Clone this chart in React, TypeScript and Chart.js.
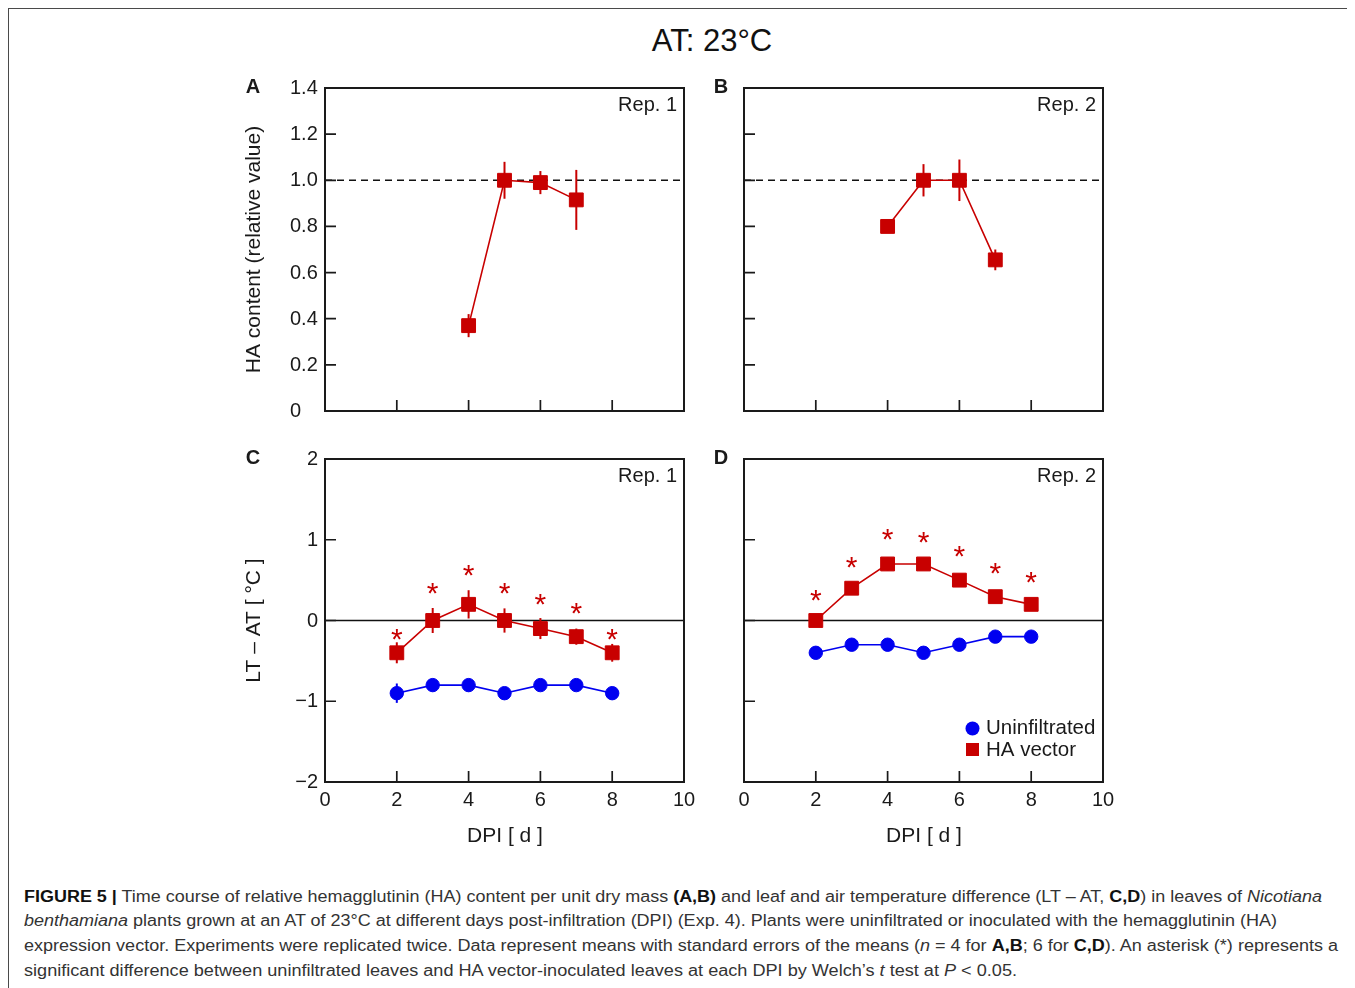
import React, { useEffect, useLayoutEffect, useRef } from "react";
import { Chart, registerables } from "chart.js";

Chart.register(...registerables);

const FONT = '"Liberation Sans", Arial, Helvetica, sans-serif';
const RED = "#c80000";
const BLUE = "#0000f0";
const INK = "#1a1a1a";

// ---- Data: HA content (panels A, B) ----
const haDays = [4, 5, 6, 7];
const haRep1 = [0.37, 1.0, 0.99, 0.915];
const haRep1Err = [0.05, 0.08, 0.05, 0.13];
const haRep2 = [0.8, 1.0, 1.0, 0.655];
const haRep2Err = [0.0, 0.07, 0.09, 0.045];

// ---- Data: LT - AT (panels C, D) ----
const dpiDays = [2, 3, 4, 5, 6, 7, 8];
const tRep1Uninf = [-0.9, -0.8, -0.8, -0.9, -0.8, -0.8, -0.9];
const tRep1UninfErr = [0.12, 0.08, 0.08, 0.05, 0.05, 0.05, 0.05];
const tRep1Ha = [-0.4, 0.0, 0.2, 0.0, -0.1, -0.2, -0.4];
const tRep1HaErr = [0.13, 0.155, 0.175, 0.15, 0.13, 0.1, 0.11];
const tRep1Star = [-0.14, 0.43, 0.65, 0.43, 0.295, 0.18, -0.14];
const tRep2Uninf = [-0.4, -0.3, -0.3, -0.4, -0.3, -0.2, -0.2];
const tRep2UninfErr = [0.04, 0.04, 0.04, 0.04, 0.04, 0.04, 0.04];
const tRep2Ha = [0.0, 0.4, 0.7, 0.7, 0.5, 0.295, 0.2];
const tRep2HaErr = [0.03, 0.03, 0.08, 0.06, 0.075, 0.08, 0.065];
const tRep2Star = [0.345, 0.75, 1.1, 1.06, 0.885, 0.68, 0.57];

// ---- Ticks ----
const xTickValues = [0, 2, 4, 6, 8, 10];
const xTickLabels = ["0", "2", "4", "6", "8", "10"];
const haTickValues = [0, 0.2, 0.4, 0.6, 0.8, 1.0, 1.2, 1.4];
const haTickLabels = ["0", "0.2", "0.4", "0.6", "0.8", "1.0", "1.2", "1.4"];
const tTickValues = [-2, -1, 0, 1, 2];
const tTickLabels = ["\u22122", "\u22121", "0", "1", "2"];

const legendLabels = ["Uninfiltrated", "HA vector"];

type Series = {
  label: string;
  x: number[];
  y: number[];
  err: number[];
  color: string;
  style: "rect" | "circle";
  radius: number;
};

type Panel = {
  key: string;
  left: number;
  top: number;
  width: number;
  height: number;
  pad: { left: number; top: number; right: number; bottom: number };
  letter: string;
  letterDx: number;
  rep: string;
  yMin: number;
  yMax: number;
  yTicks: number[];
  yLabels: string[] | null;
  yAlign: "left" | "right";
  yTitle: string | null;
  xLabels: string[] | null;
  xTitle: string | null;
  ref: number;
  refDash: number[];
  series: Series[];
  stars: number[] | null;
  legend: boolean;
};

const redSeries = (label: string, x: number[], y: number[], err: number[]): Series => ({
  label, x, y, err, color: RED, style: "rect", radius: 9.8,
});
const blueSeries = (label: string, x: number[], y: number[], err: number[]): Series => ({
  label, x, y, err, color: BLUE, style: "circle", radius: 6.7,
});

const panels: Panel[] = [
  {
    key: "A", left: 235, top: 65, width: 465, height: 365,
    pad: { left: 90, top: 23, right: 16, bottom: 19 },
    letter: "A", letterDx: -72, rep: "Rep. 1",
    yMin: 0, yMax: 1.4, yTicks: haTickValues, yLabels: haTickLabels, yAlign: "left",
    yTitle: "HA content (relative value)", xLabels: null, xTitle: null,
    ref: 1.0, refDash: [7, 5],
    series: [redSeries("HA vector", haDays, haRep1, haRep1Err)],
    stars: null, legend: false,
  },
  {
    key: "B", left: 700, top: 65, width: 420, height: 365,
    pad: { left: 44, top: 23, right: 17, bottom: 19 },
    letter: "B", letterDx: -23, rep: "Rep. 2",
    yMin: 0, yMax: 1.4, yTicks: haTickValues, yLabels: null, yAlign: "left",
    yTitle: null, xLabels: null, xTitle: null,
    ref: 1.0, refDash: [7, 5],
    series: [redSeries("HA vector", haDays, haRep2, haRep2Err)],
    stars: null, legend: false,
  },
  {
    key: "C", left: 235, top: 440, width: 465, height: 420,
    pad: { left: 90, top: 19, right: 16, bottom: 78 },
    letter: "C", letterDx: -72, rep: "Rep. 1",
    yMin: -2, yMax: 2, yTicks: tTickValues, yLabels: tTickLabels, yAlign: "right",
    yTitle: "LT \u2013 AT [ \u00b0C ]", xLabels: xTickLabels, xTitle: "DPI [ d ]",
    ref: 0, refDash: [],
    series: [
      blueSeries("Uninfiltrated", dpiDays, tRep1Uninf, tRep1UninfErr),
      redSeries("HA vector", dpiDays, tRep1Ha, tRep1HaErr),
    ],
    stars: tRep1Star, legend: false,
  },
  {
    key: "D", left: 700, top: 440, width: 420, height: 420,
    pad: { left: 44, top: 19, right: 17, bottom: 78 },
    letter: "D", letterDx: -23, rep: "Rep. 2",
    yMin: -2, yMax: 2, yTicks: tTickValues, yLabels: null, yAlign: "right",
    yTitle: null, xLabels: xTickLabels, xTitle: "DPI [ d ]",
    ref: 0, refDash: [],
    series: [
      blueSeries("Uninfiltrated", dpiDays, tRep2Uninf, tRep2UninfErr),
      redSeries("HA vector", dpiDays, tRep2Ha, tRep2HaErr),
    ],
    stars: tRep2Star, legend: true,
  },
];

function makePlugin(p: Panel) {
  return {
    id: "panelDeco" + p.key,
    beforeDatasetsDraw(chart: any) {
      const { ctx, chartArea: a, scales } = chart;
      const xs = scales.x;
      const ys = scales.y;
      ctx.save();
      // reference line
      ctx.strokeStyle = "#111";
      ctx.lineWidth = 1.5;
      ctx.setLineDash(p.refDash);
      const yr = ys.getPixelForValue(p.ref);
      ctx.beginPath();
      ctx.moveTo(a.left, yr);
      ctx.lineTo(a.right, yr);
      ctx.stroke();
      ctx.setLineDash([]);
      // error bars
      for (const s of p.series) {
        ctx.strokeStyle = s.color;
        ctx.lineWidth = 2;
        s.x.forEach((xv, i) => {
          const e = s.err[i];
          if (!e) return;
          const px = xs.getPixelForValue(xv);
          ctx.beginPath();
          ctx.moveTo(px, ys.getPixelForValue(s.y[i] - e));
          ctx.lineTo(px, ys.getPixelForValue(s.y[i] + e));
          ctx.stroke();
        });
      }
      ctx.restore();
    },
    afterDraw(chart: any) {
      const { ctx, chartArea: a, scales } = chart;
      const xs = scales.x;
      const ys = scales.y;
      ctx.save();
      // frame
      ctx.strokeStyle = INK;
      ctx.lineWidth = 2;
      ctx.strokeRect(a.left, a.top, a.right - a.left, a.bottom - a.top);
      // inward ticks
      ctx.lineWidth = 1.7;
      ctx.beginPath();
      p.yTicks.forEach((v) => {
        if (v === p.yMin || v === p.yMax) return;
        const y = ys.getPixelForValue(v);
        ctx.moveTo(a.left, y);
        ctx.lineTo(a.left + 11, y);
      });
      xTickValues.forEach((v) => {
        if (v === 0 || v === 10) return;
        const x = xs.getPixelForValue(v);
        ctx.moveTo(x, a.bottom);
        ctx.lineTo(x, a.bottom - 11);
      });
      ctx.stroke();

      ctx.fillStyle = INK;
      ctx.font = `20px ${FONT}`;
      // y tick labels
      if (p.yLabels) {
        ctx.textBaseline = "middle";
        ctx.textAlign = p.yAlign;
        const lx = p.yAlign === "left" ? a.left - 35 : a.left - 7;
        p.yTicks.forEach((v, i) => {
          ctx.fillText(p.yLabels![i], lx, ys.getPixelForValue(v) + 0.5);
        });
      }
      // x tick labels
      if (p.xLabels) {
        ctx.textBaseline = "middle";
        ctx.textAlign = "center";
        xTickValues.forEach((v, i) => {
          ctx.fillText(p.xLabels![i], xs.getPixelForValue(v), a.bottom + 18.5);
        });
      }
      ctx.font = `21px ${FONT}`;
      // x title
      if (p.xTitle) {
        ctx.textAlign = "center";
        ctx.textBaseline = "middle";
        ctx.fillText(p.xTitle, (a.left + a.right) / 2 + 0.5, a.bottom + 54);
      }
      // y title
      if (p.yTitle) {
        ctx.save();
        ctx.translate(a.left - 71, (a.top + a.bottom) / 2);
        ctx.rotate(-Math.PI / 2);
        ctx.textAlign = "center";
        ctx.textBaseline = "middle";
        ctx.fillText(p.yTitle, 0, 0);
        ctx.restore();
      }
      // rep label
      ctx.font = `20px ${FONT}`;
      ctx.textAlign = "right";
      ctx.textBaseline = "middle";
      ctx.fillText(p.rep, a.right - 7, a.top + 17.5);
      // panel letter
      ctx.font = `bold 20px ${FONT}`;
      ctx.textAlign = "center";
      ctx.fillText(p.letter, a.left + p.letterDx, a.top - 1);
      // significance asterisks
      if (p.stars) {
        const size = 30;
        ctx.fillStyle = RED;
        ctx.font = `${size}px ${FONT}`;
        ctx.textAlign = "center";
        ctx.textBaseline = "alphabetic";
        p.stars.forEach((v, i) => {
          ctx.fillText("*", xs.getPixelForValue(dpiDays[i]), ys.getPixelForValue(v) + 0.58 * size);
        });
      }
      // legend
      if (p.legend) {
        const cx = a.right - 130.5;
        const y1 = a.bottom - 53.5;
        const y2 = a.bottom - 32.5;
        ctx.fillStyle = BLUE;
        ctx.beginPath();
        ctx.arc(cx, y1, 7, 0, Math.PI * 2);
        ctx.fill();
        ctx.fillStyle = RED;
        ctx.fillRect(cx - 6.5, y2 - 6.5, 13, 13);
        ctx.fillStyle = INK;
        ctx.font = `20.5px ${FONT}`;
        ctx.textAlign = "left";
        ctx.textBaseline = "middle";
        ctx.fillText(legendLabels[0], a.right - 117, y1);
        ctx.fillText(legendLabels[1], a.right - 117, y2 + 1);
      }
      ctx.restore();
    },
  };
}

function PanelChart({ p }: { p: Panel }) {
  const ref = useRef<HTMLCanvasElement | null>(null);
  useEffect(() => {
    if (!ref.current) return;
    const chart = new Chart(ref.current, {
      type: "line",
      data: {
        datasets: p.series.map((s) => ({
          label: s.label,
          data: s.x.map((xv, i) => ({ x: xv, y: s.y[i] })),
          borderColor: s.color,
          backgroundColor: s.color,
          borderWidth: 1.6,
          pointStyle: s.style,
          pointRadius: s.radius,
          pointBorderWidth: 1,
          pointBackgroundColor: s.color,
          pointBorderColor: s.color,
          tension: 0,
          clip: false as any,
        })),
      },
      options: {
        responsive: false,
        animation: false,
        devicePixelRatio: 1,
        events: [],
        layout: { padding: p.pad },
        scales: {
          x: { type: "linear", min: 0, max: 10, display: false },
          y: { type: "linear", min: p.yMin, max: p.yMax, display: false },
        },
        plugins: {
          legend: { display: false },
          tooltip: { enabled: false },
          title: { display: false },
        },
      },
      plugins: [makePlugin(p)],
    });
    return () => chart.destroy();
  }, [p]);
  return (
    <canvas
      ref={ref}
      width={p.width}
      height={p.height}
      style={{ position: "absolute", left: p.left - 8, top: p.top - 8, width: p.width, height: p.height }}
    />
  );
}

const captionTargets = [1298, 1253, 1314, 993];
const captionCapCenters = [897, 921.6, 946.2, 970.8];

export default function App() {
  const lineRefs = useRef<(HTMLSpanElement | null)[]>([]);
  useLayoutEffect(() => {
    lineRefs.current.forEach((el, i) => {
      if (!el) return;
      el.style.transform = "none";
      const w = el.getBoundingClientRect().width;
      if (w > 0) el.style.transform = `scaleX(${captionTargets[i] / w})`;
    });
  }, []);

  const capFont = 16;
  const capLH = 24.6;
  const capOffset = (capLH - 1.117 * capFont) / 2 + 0.547 * capFont;

  const lines: React.ReactNode[] = [
    <>
      <b style={{ color: "#111" }}>FIGURE 5 |</b> Time course of relative hemagglutinin (HA) content per unit dry mass{" "}
      <b style={{ color: "#111" }}>(A,B)</b> and leaf and air temperature difference (LT – AT,{" "}
      <b style={{ color: "#111" }}>C,D</b>) in leaves of <i>Nicotiana</i>
    </>,
    <>
      <i>benthamiana</i> plants grown at an AT of 23°C at different days post-infiltration (DPI) (Exp. 4). Plants were
      uninfiltrated or inoculated with the hemagglutinin (HA)
    </>,
    <>
      expression vector. Experiments were replicated twice. Data represent means with standard errors of the means (
      <i>n</i> = 4 for <b style={{ color: "#111" }}>A,B</b>; 6 for <b style={{ color: "#111" }}>C,D</b>). An asterisk (*)
      represents a
    </>,
    <>
      significant difference between uninfiltrated leaves and HA vector-inoculated leaves at each DPI by Welch’s{" "}
      <i>t</i> test at <i>P</i> &lt; 0.05.
    </>,
  ];

  return (
    <div style={{ position: "relative", width: 1347, height: 980, overflow: "hidden", fontFamily: FONT }}>
      <div
        style={{
          position: "absolute",
          left: -1,
          top: -1,
          width: 1400,
          height: 1100,
          borderLeft: "2px solid #4a4a4a",
          borderTop: "2px solid #4a4a4a",
        }}
      />
      <div
        style={{
          position: "absolute",
          left: 712 - 8 - 200,
          top: 40.5 - 8 - 0.49 * 31,
          width: 400,
          textAlign: "center",
          fontSize: 31,
          lineHeight: "31px",
          color: "#111",
          whiteSpace: "nowrap",
        }}
      >
        AT: 23°C
      </div>
      {panels.map((p) => (
        <PanelChart key={p.key} p={p} />
      ))}
      {lines.map((content, i) => (
        <span
          key={i}
          ref={(el) => {
            lineRefs.current[i] = el;
          }}
          style={{
            position: "absolute",
            left: 24 - 8,
            top: captionCapCenters[i] - 8 - capOffset,
            display: "inline-block",
            whiteSpace: "nowrap",
            fontSize: capFont,
            lineHeight: `${capLH}px`,
            color: "#333",
            transformOrigin: "0 0",
          }}
        >
          {content}
        </span>
      ))}
    </div>
  );
}
